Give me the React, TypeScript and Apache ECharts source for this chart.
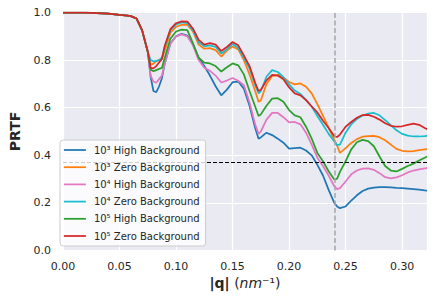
import React, { useEffect, useRef } from "react";
import * as echarts from "echarts";

const q = [0, 0.01, 0.02, 0.03, 0.04, 0.05, 0.055, 0.06, 0.065, 0.07, 0.075,
  0.0775, 0.08, 0.0825, 0.085, 0.0875,
  0.09, 0.095, 0.1, 0.105, 0.11,
  0.115, 0.12, 0.125, 0.13, 0.135,
  0.14, 0.145, 0.15, 0.155, 0.16,
  0.165, 0.17, 0.173, 0.175, 0.18,
  0.185, 0.19, 0.195, 0.2, 0.205,
  0.21, 0.215, 0.22, 0.225, 0.23,
  0.235, 0.24, 0.2425, 0.245, 0.25,
  0.255, 0.26, 0.265, 0.27, 0.275,
  0.28, 0.285, 0.29, 0.295, 0.3,
  0.305, 0.31, 0.315, 0.32, 0.322];

const start = [1.0, 1.0, 0.999, 0.997, 0.995, 0.99, 0.988, 0.985, 0.975, 0.925, 0.835];

const high1e3 = [...start,
  0.73, 0.67, 0.665, 0.69, 0.724,
  0.785, 0.87, 0.9, 0.91, 0.903,
  0.865, 0.81, 0.775, 0.735, 0.69,
  0.652, 0.676, 0.707, 0.71, 0.68,
  0.608, 0.515, 0.47, 0.475, 0.495,
  0.485, 0.47, 0.453, 0.428, 0.43,
  0.432, 0.42, 0.4, 0.36, 0.315,
  0.255, 0.2, 0.185, 0.178, 0.185,
  0.21, 0.232, 0.25, 0.26, 0.264,
  0.266, 0.266, 0.265, 0.263, 0.262,
  0.26, 0.258, 0.256, 0.253, 0.252];

const zero1e3 = [...start,
  0.78, 0.785, 0.795, 0.8, 0.805,
  0.84, 0.915, 0.94, 0.948, 0.948,
  0.92, 0.865, 0.848, 0.85, 0.842,
  0.815, 0.84, 0.857, 0.845, 0.8,
  0.74, 0.67, 0.625, 0.63, 0.7,
  0.733, 0.738, 0.727, 0.708, 0.698,
  0.702, 0.688, 0.66, 0.615, 0.566,
  0.515, 0.465, 0.44, 0.41, 0.43,
  0.452, 0.468, 0.478, 0.481, 0.482,
  0.476, 0.463, 0.445, 0.427, 0.419,
  0.416, 0.418, 0.422, 0.425, 0.426];

const high1e4 = [...start,
  0.735, 0.71, 0.705, 0.72, 0.735,
  0.785, 0.87, 0.9, 0.908, 0.9,
  0.862, 0.8, 0.768, 0.755, 0.735,
  0.706, 0.714, 0.725, 0.713, 0.695,
  0.622, 0.53, 0.49, 0.5, 0.55,
  0.578, 0.578, 0.56, 0.538, 0.54,
  0.53, 0.495, 0.445, 0.39, 0.355,
  0.315, 0.27, 0.258, 0.262, 0.29,
  0.32, 0.336, 0.344, 0.345, 0.339,
  0.325, 0.308, 0.303, 0.307, 0.316,
  0.328, 0.336, 0.341, 0.345, 0.346];

const zero1e4 = [...start,
  0.8, 0.795, 0.797, 0.8, 0.81,
  0.855, 0.925, 0.95, 0.958, 0.955,
  0.925, 0.875, 0.858, 0.862, 0.855,
  0.828, 0.845, 0.868, 0.852, 0.81,
  0.765, 0.695, 0.66, 0.67, 0.73,
  0.758, 0.75, 0.728, 0.698, 0.672,
  0.658, 0.633, 0.605, 0.565, 0.528,
  0.49, 0.458, 0.443, 0.445, 0.495,
  0.53, 0.553, 0.567, 0.575, 0.578,
  0.568, 0.548, 0.527, 0.505, 0.49,
  0.483, 0.479, 0.479, 0.481, 0.482];

const high1e5 = [...start,
  0.76, 0.753, 0.758, 0.763, 0.767,
  0.81, 0.89, 0.92, 0.928, 0.926,
  0.87, 0.81, 0.789, 0.786, 0.775,
  0.752, 0.77, 0.786, 0.778, 0.74,
  0.67, 0.605, 0.565, 0.572, 0.608,
  0.638, 0.64, 0.625, 0.59, 0.568,
  0.56, 0.52, 0.47, 0.41, 0.375,
  0.333, 0.298, 0.302, 0.33, 0.375,
  0.425, 0.455, 0.465, 0.46, 0.438,
  0.395, 0.355, 0.336, 0.332, 0.343,
  0.355, 0.365, 0.378, 0.39, 0.395];

const zero1e5 = [...start,
  0.767, 0.765, 0.775, 0.79, 0.805,
  0.86, 0.93, 0.955, 0.963, 0.962,
  0.932, 0.885, 0.865, 0.871, 0.865,
  0.838, 0.855, 0.876, 0.862, 0.82,
  0.775, 0.705, 0.67, 0.675, 0.715,
  0.738, 0.735, 0.72, 0.685, 0.66,
  0.652, 0.632, 0.605, 0.58, 0.545,
  0.515, 0.48, 0.477, 0.487, 0.52,
  0.54, 0.558, 0.569, 0.57, 0.562,
  0.55, 0.535, 0.524, 0.52, 0.522,
  0.528, 0.533, 0.528, 0.515, 0.51];

const names = [
  "10³ High Background",
  "10³ Zero Background",
  "10⁴ High Background",
  "10⁴ Zero Background",
  "10⁵ High Background",
  "10⁵ Zero Background",
];
const seriesValues = [high1e3, zero1e3, high1e4, zero1e4, high1e5, zero1e5];
const colors = ["#1f77b4", "#ff7f0e", "#e377c2", "#17becf", "#2ca02c", "#d62728"];

const cutoffQ = 0.2418;
const thresholdPRTF = 0.3679;

export default function App() {
  const ref = useRef<HTMLDivElement>(null);
  useEffect(() => {
    const chart = echarts.init(ref.current!, null, { renderer: "svg" });
    const series: any[] = seriesValues.map((vals, i) => ({
      name: names[i],
      type: "line",
      data: q.map((x, j) => [x, vals[j]]),
      symbol: "none",
      showSymbol: false,
      lineStyle: { color: colors[i], width: 1.75 },
      itemStyle: { color: colors[i] },
      z: 3,
    }));
    series.push({
      name: "_ref",
      type: "line",
      data: [],
      symbol: "none",
      z: 2,
      markLine: {
        silent: true,
        symbol: "none",
        label: { show: false },
        data: [
          { xAxis: cutoffQ, lineStyle: { color: "#a6a6a6", width: 1.5, type: [5, 2.5] } },
          { yAxis: thresholdPRTF, lineStyle: { color: "#000000", width: 1, type: [4, 2] } },
        ],
      },
    });
    chart.setOption({
      animation: false,
      backgroundColor: "#ffffff",
      textStyle: { fontFamily: "DejaVu Sans" },
      grid: {
        left: 56, right: 9, top: 12.5, bottom: 51.5,
        show: true, backgroundColor: "#EAEAF2", borderWidth: 0,
      },
      xAxis: {
        type: "value", min: 0, max: 0.322, interval: 0.05,
        axisLine: { show: false }, axisTick: { show: false },
        splitLine: { show: true, lineStyle: { color: "#ffffff", width: 1.2 } },
        axisLabel: {
          formatter: (v: number) => v.toFixed(2), color: "#262626",
          fontSize: 11, margin: 10, showMaxLabel: false,
        },
        name: "{b||q|} ({i|nm}{s|⁻¹})",
        nameLocation: "middle",
        nameGap: 21,
        nameTextStyle: {
          color: "#262626", fontSize: 14,
          rich: {
            b: { fontWeight: "bold", fontSize: 14, color: "#262626" },
            i: { fontStyle: "italic", fontSize: 14, color: "#262626" },
            s: { fontSize: 14, color: "#262626" },
          },
        },
      },
      yAxis: {
        type: "value", min: 0, max: 1, interval: 0.2,
        axisLine: { show: false }, axisTick: { show: false },
        splitLine: { show: true, lineStyle: { color: "#ffffff", width: 1.2 } },
        axisLabel: {
          formatter: (v: number) => v.toFixed(1), color: "#262626",
          fontSize: 11, margin: 12,
        },
        name: "PRTF",
        nameLocation: "middle",
        nameGap: 41,
        nameTextStyle: { color: "#262626", fontSize: 14, fontWeight: "bold" },
      },
      legend: {
        orient: "vertical",
        left: 60, top: 140,
        z: 10,
        itemWidth: 22, itemHeight: 12, itemGap: 3.2,
        padding: [3, 6, 3, 3],
        backgroundColor: "rgba(255,255,255,0.8)",
        borderColor: "#cccccc", borderWidth: 1, borderRadius: 3,
        itemStyle: { opacity: 0, borderWidth: 0 },
        lineStyle: { width: 1.75 },
        textStyle: { fontSize: 10, color: "#262626", padding: [0, 0, 0, 3], lineHeight: 14 },
        data: names,
      },
      series,
    });
    return () => chart.dispose();
  }, []);
  return (
    <div
      ref={ref}
      style={{ position: "fixed", left: 0, top: 0, width: 436, height: 302 }}
    />
  );
}
